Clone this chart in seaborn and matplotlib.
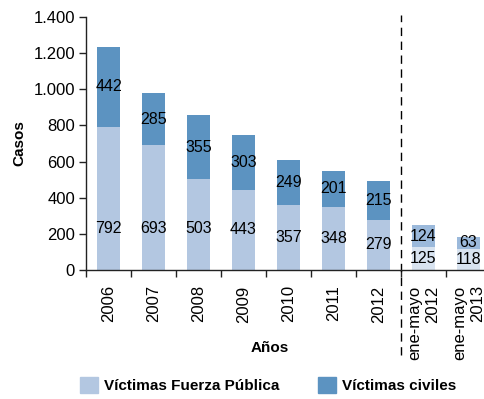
import matplotlib
matplotlib.use("Agg")
import matplotlib.pyplot as plt
import matplotlib.ticker as mticker
from matplotlib.patches import Patch
import seaborn as sns
import pandas as pd

anios = ["2006", "2007", "2008", "2009", "2010", "2011", "2012",
         "ene-mayo\n2012", "ene-mayo\n2013"]
fuerza_publica = [792, 693, 503, 443, 357, 348, 279, 125, 118]
civiles = [442, 285, 355, 303, 249, 201, 215, 124, 63]

df = pd.DataFrame({"anio": anios, "fp": fuerza_publica, "civ": civiles})
df["total"] = df["fp"] + df["civ"]

sns.set_style("white")
plt.rcParams["font.family"] = ["Liberation Sans", "DejaVu Sans"]
plt.rcParams["text.color"] = "black"
plt.rcParams["axes.labelcolor"] = "black"
plt.rcParams["xtick.color"] = "black"
plt.rcParams["ytick.color"] = "black"

light = "#b3c7e1"
dark = "#5c93c1"
light2 = "#d8e3f0"
dark2 = "#9bb9db"
pal_fp = [light] * 7 + [light2] * 2
pal_civ = [dark] * 7 + [dark2] * 2

fig = plt.figure(figsize=(4.85, 3.99), dpi=100)
ax = fig.add_axes([86 / 485, 129 / 399, 405 / 485, 253 / 399])

# stacked: total first (civiles colour), then fuerza publica on top of it
sns.barplot(data=df, x="anio", y="total", hue="anio", palette=pal_civ,
            legend=False, width=0.53, ax=ax, linewidth=0, saturation=1)
sns.barplot(data=df, x="anio", y="fp", hue="anio", palette=pal_fp,
            legend=False, width=0.53, ax=ax, linewidth=0, saturation=1)

for i, (a, b) in enumerate(zip(fuerza_publica, civiles)):
    ax.text(i, min(a / 2, 232), str(a), ha="center", va="center", fontsize=11.5)
    ax.text(i, a + b / 2, str(b), ha="center", va="center", fontsize=11.5)

ax.set_ylim(0, 1400)
ax.set_xlim(-0.5, 8.5)
ax.yaxis.set_major_locator(mticker.MultipleLocator(200))
ax.yaxis.set_major_formatter(mticker.FuncFormatter(lambda v, p: f"{int(v):,}".replace(",", ".")))
ax.tick_params(axis="y", direction="out", length=5, width=1, labelsize=12, left=True,
               color="#222222", pad=3)

ax.set_xticks(range(len(anios)))
ax.set_xticklabels(anios, rotation=90, ha="center", va="top", multialignment="right", fontsize=12)
ax.set_xticks([i - 0.5 for i in range(len(anios) + 1)], minor=True)
ax.tick_params(axis="x", which="major", length=0, pad=11)
ax.tick_params(axis="x", which="minor", direction="out", length=5, width=1, bottom=True, color="#222222")

for s in ["top", "right"]:
    ax.spines[s].set_visible(False)
for s in ["left", "bottom"]:
    ax.spines[s].set_color("#222222")
    ax.spines[s].set_linewidth(1)

ax.axvline(6.5, ymin=-0.336, ymax=1.008, color="black", linestyle=(0, (6, 4)),
           linewidth=1, clip_on=False)

ax.set_ylabel("Casos", fontsize=11, fontweight="bold")
ax.yaxis.set_label_coords(-(86 - 26) / 405, 0.5)
ax.set_xlabel("Años", fontsize=11, fontweight="bold")
ax.xaxis.set_label_coords((270 - 86) / 405, -(341 - 270) / 253)

handles = [Patch(color=light, label="Víctimas Fuerza Pública"),
           Patch(color=dark, label="Víctimas civiles")]
fig.legend(handles=handles, loc="center", bbox_to_anchor=(268 / 485, 1 - 385 / 399),
           ncol=2, frameon=False, prop={"weight": "bold", "size": 11},
           handlelength=1.2, handleheight=1.2, handletextpad=0.4, columnspacing=2.5)

fig.savefig("out.png", dpi=100)
